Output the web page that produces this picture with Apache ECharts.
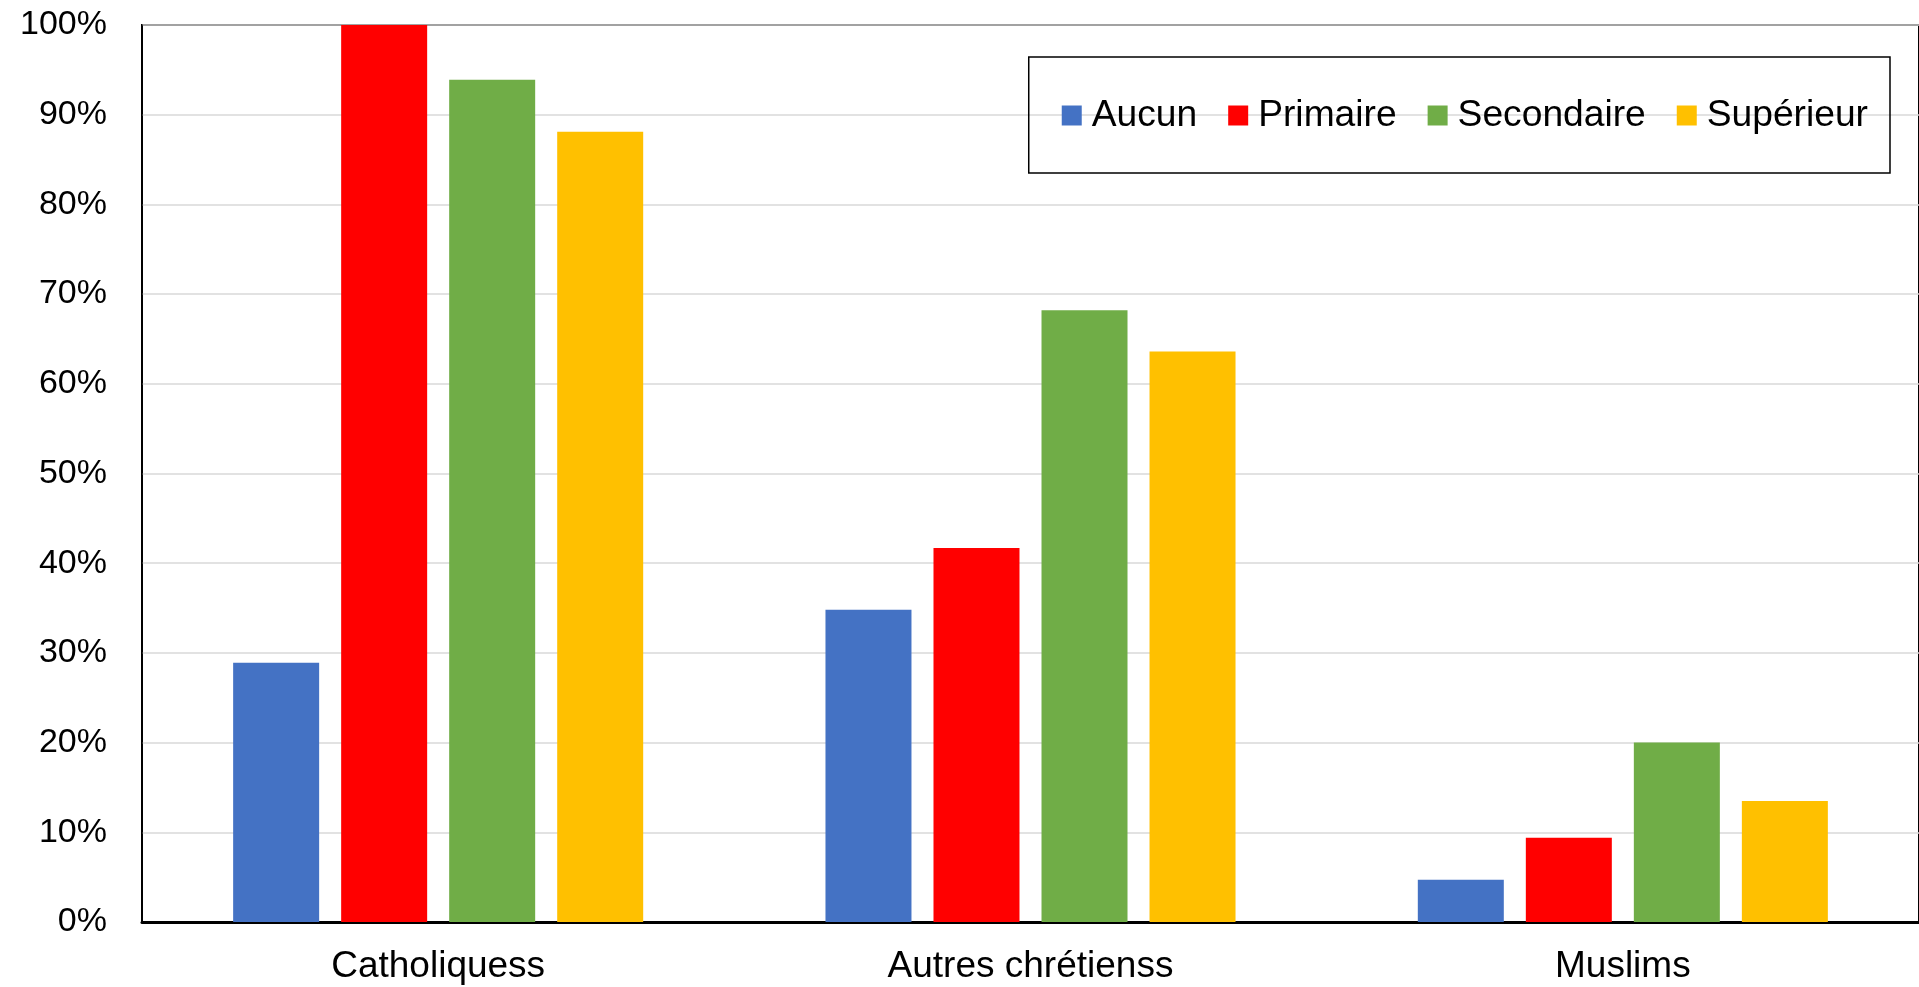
<!DOCTYPE html>
<html>
<head>
<meta charset="utf-8">
<script src="https://cdn.jsdelivr.net/npm/echarts@6/dist/echarts.min.js"></script>
<style>
  html, body { margin: 0; padding: 0; background: #fff; }
  #chart { width: 1919px; height: 987px; }
</style>
</head>
<body>
<div id="chart"></div>
<script>
const categories = ['Catholiquess', 'Autres chrétienss', 'Muslims']
const levels = ['Aucun', 'Primaire', 'Secondaire', 'Supérieur']
const aucun = [28.9, 34.8, 4.7]
const primaire = [100, 41.7, 9.4]
const secondaire = [93.9, 68.2, 20.0]
const superieur = [88.1, 63.6, 13.5]
const colors = ['#4472C4', '#FF0000', '#70AD47', '#FFC000']
const yTicks = [0, 10, 20, 30, 40, 50, 60, 70, 80, 90, 100]

const font = '"Liberation Sans", Arial, sans-serif'
const values = [aucun, primaire, secondaire, superieur]

const myChart = echarts.init(document.getElementById('chart'), null, { renderer: 'canvas' })

const series = levels.map((name, i) => ({
  name: name,
  type: 'bar',
  barWidth: 86,
  barGap: '25.6%',
  itemStyle: { color: colors[i] },
  data: values[i]
}))

const option = {
  animation: false,
  textStyle: { fontFamily: font },
  grid: {
    left: 142,
    right: 0,
    top: 25,
    bottom: 65,
    show: true,
    borderColor: '#000',
    borderWidth: 2,
    backgroundColor: 'transparent'
  },
  legend: {
    data: levels,
    right: 29,
    top: 57,
    orient: 'horizontal',
    icon: 'rect',
    itemWidth: 20,
    itemHeight: 20,
    itemGap: 31,
    padding: [37, 22, 36, 33],
    borderColor: '#000',
    borderWidth: 1.5,
    textStyle: {
      fontFamily: font,
      fontSize: 37.2,
      lineHeight: 38,
      color: '#000',
      padding: [5, 0, 0, 5]
    }
  },
  xAxis: {
    type: 'category',
    data: categories,
    axisLine: { show: true, lineStyle: { color: '#000', width: 3 } },
    axisTick: { show: false },
    axisLabel: {
      fontFamily: font,
      fontSize: 37,
      color: '#000',
      margin: 26
    }
  },
  yAxis: {
    type: 'value',
    min: yTicks[0],
    max: yTicks[yTicks.length - 1],
    interval: 10,
    axisLine: { show: true, lineStyle: { color: '#000', width: 1.5 } },
    axisTick: { show: false },
    splitLine: { show: true, lineStyle: { color: '#d9d9d9', width: 1.5 } },
    axisLabel: {
      fontFamily: font,
      fontSize: 34,
      color: '#000',
      margin: 35,
      formatter: (v) => v + '%'
    }
  },
  series: series
}
myChart.setOption(option)
</script>
</body>
</html>
